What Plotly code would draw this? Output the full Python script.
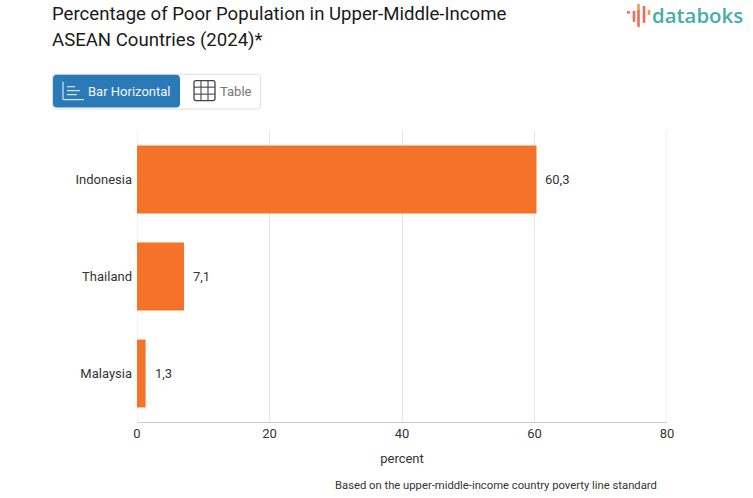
import plotly.graph_objects as go

countries = ["Indonesia", "Thailand", "Malaysia"]
values = [60.3, 7.1, 1.3]
value_labels = ["60,3", "7,1", "1,3"]
x_ticks = [0, 20, 40, 60, 80]
title_lines = ["Percentage of Poor Population in Upper-Middle-Income", "ASEAN Countries (2024)*"]
footnote = "Based on the upper-middle-income country poverty line standard"
BAR = "#F57328"
W, H = 753, 498
L, R, T, B = 137, 667, 130.5, 422.5
FONT = "Roboto"


def px(x):
    return (x - L) / (R - L)


def py(y):
    return 1 - (y - 1 - T) / (B - T)


def round_rect(x0, y0, x1, y1, r, fill, line=None, lw=1):
    pts = [("M", x0 + r, y0), ("L", x1 - r, y0), ("Q", x1, y0, x1, y0 + r), ("L", x1, y1 - r),
           ("Q", x1, y1, x1 - r, y1), ("L", x0 + r, y1), ("Q", x0, y1, x0, y1 - r), ("L", x0, y0 + r),
           ("Q", x0, y0, x0 + r, y0)]
    parts = []
    for p in pts:
        coords = " ".join(f"{px(p[i]):.5f},{py(p[i + 1]):.5f}" for i in range(1, len(p), 2))
        parts.append(f"{p[0]} {coords}")
    return dict(type="path", xref="paper", yref="paper", path=" ".join(parts) + " Z", fillcolor=fill,
                line=dict(color=line or "rgba(0,0,0,0)", width=lw if line else 0), layer="above")


def hline(x0, y0, x1, y1, color, lw=1):
    return dict(type="line", xref="paper", yref="paper", x0=px(x0), x1=px(x1), y0=py(y0), y1=py(y1),
                line=dict(color=color, width=lw), layer="above")


def label(x, y, text, size, color, anchor="left", family=FONT, weight=None):
    font = dict(family=family, size=size, color=color)
    if weight:
        font["weight"] = weight
    return dict(xref="paper", yref="paper", x=px(x), y=py(y), text=text, showarrow=False, xanchor=anchor,
                yanchor="middle", font=font)


fig = go.Figure(go.Bar(
    y=countries, x=values, orientation="h", marker=dict(color=BAR, line=dict(width=0)),
    cliponaxis=False, width=0.7, hoverinfo="skip",
))

shapes = [
    dict(type="line", xref="x", yref="paper", x0=x_ticks[0], x1=x_ticks[0], y0=0, y1=1,
         line=dict(color="#E6E6E6", width=1), layer="below"),
    dict(type="line", xref="x", yref="paper", x0=x_ticks[-1], x1=x_ticks[-1], y0=0, y1=1,
         line=dict(color="#E6E6E6", width=1), layer="below"),
    round_rect(52.5, 74.5, 260.5, 109.5, 4, "white", "#DDDDDD", 1),
    round_rect(53, 75, 180, 108, 4, "#2A7AB8"),
    hline(63, 82, 63, 100, "#D5E6F3", 1.2),
    hline(63, 100, 84, 100, "#D5E6F3", 1.2),
    hline(67, 87, 75, 87, "#D5E6F3", 1.2),
    hline(67, 91, 80, 91, "#D5E6F3", 1.2),
    hline(67, 95, 77, 95, "#D5E6F3", 1.2),
    round_rect(194, 81, 215, 101, 2, "white", "#444444", 1.3),
    hline(201, 81, 201, 101, "#444444", 1.1),
    hline(208, 81, 208, 101, "#444444", 1.1),
    hline(194, 87.5, 215, 87.5, "#444444", 1.1),
    hline(194, 94.5, 215, 94.5, "#444444", 1.1),
    hline(627, 12.5, 630, 12.5, "#EE7F4B", 2.6),
    hline(634, 11, 634, 22, "#EE6F55", 2.6),
    hline(638.5, 4, 638.5, 10, "#F0A04B", 2.6),
    hline(638.5, 10, 638.5, 27, "#EC6A5C", 2.6),
    hline(644, 6, 644, 23, "#EC6A5C", 2.6),
    hline(649, 10, 649, 15, "#F0A04B", 2.6),
]

annotations = [
    label(50, 14, title_lines[0], 18.6, "#1a1a1a"),
    label(50, 40.5, title_lines[1], 18.6, "#1a1a1a"),
    label(86, 91.5, "Bar Horizontal", 13, "#F2F7FB"),
    label(218, 91.5, "Table", 13, "#777777"),
    label(650, 15, "databoks", 20.4, "#45ADA8", family="Open Sans", weight=600),
    label(333, 487.5, footnote, 11.25, "#333333"),
]
for c, v, t in zip(countries, values, value_labels):
    annotations.append(dict(x=v, y=c, xref="x", yref="y", text=t, showarrow=False, xanchor="left", xshift=7,
                            font=dict(family=FONT, size=13, color="#333333")))

fig.update_layout(
    width=W, height=H, margin=dict(l=L, r=W - R, t=T, b=H - B, pad=0), autosize=False,
    paper_bgcolor="white", plot_bgcolor="white", showlegend=False,
    font=dict(family=FONT, size=13, color="#333333"),
    shapes=shapes, annotations=annotations,
    xaxis=dict(range=[0, 80], tickvals=x_ticks, showgrid=True, gridcolor="#E6E6E6", gridwidth=1,
               zeroline=False, ticks="", title=dict(text="percent", font=dict(size=13, color="#333333"), standoff=14),
               tickfont=dict(size=13, color="#333333"), showline=True, linecolor="#CCCCCC", linewidth=1,
               ticklabelstandoff=-1),
    yaxis=dict(categoryorder="array", categoryarray=countries[::-1], ticks="", showgrid=False, zeroline=False,
               showline=False, tickfont=dict(size=13, color="#333333"), ticklabelstandoff=4),
)

fig.write_html("out.html", post_script="document.body.style.margin='0';",
               config=dict(displayModeBar=False))
